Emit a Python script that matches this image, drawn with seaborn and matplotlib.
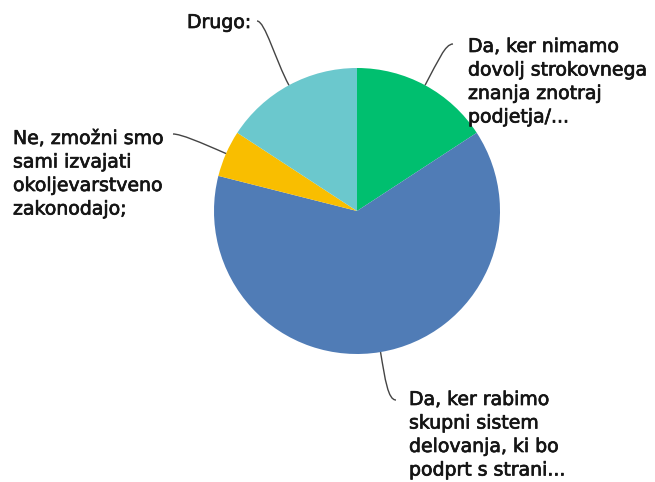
import numpy as np
import matplotlib.pyplot as plt
from matplotlib.path import Path
from matplotlib.patches import PathPatch
import matplotlib.patheffects as pe
import seaborn as sns

# answer options, in the order they run clockwise from 12 o'clock
categories = [
    "Da, ker nimamo\ndovolj strokovnega\nznanja znotraj\npodjetja/...",
    "Da, ker rabimo\nskupni sistem\ndelovanja, ki bo\npodprt s strani...",
    "Ne, zmožni smo\nsami izvajati\nokoljevarstveno\nzakonodajo;",
    "Drugo:",
]
counts = [3, 12, 1, 3]
colors = ["#00BF6F", "#507CB6", "#F9BE00", "#6BC8CD"]

# label placement in pixels (top-left of the text) and where its leader line starts
label_xy = [(468, 37), (409, 390), (13, 129), (187, 13)]
line_xy = [(453, 44), (396, 400), (173, 134), (257, 21)]

W, H = 655, 482
sns.set_theme(style="white")
plt.rcParams['font.family'] = ['DejaVu Sans']

fig = plt.figure(figsize=(W / 100, H / 100), dpi=100)
ax = fig.add_axes([0, 0, 1, 1])

cx, cy, r = 357, H - 211, 143
wedges, _ = ax.pie(counts, colors=colors, startangle=90, counterclock=False,
                   center=(cx, cy), radius=r, wedgeprops=dict(linewidth=0))
ax.set_xlim(0, W)
ax.set_ylim(0, H)
ax.set_aspect('equal')
ax.axis('off')

for w, lab, (tx, ty), (lx, ly) in zip(wedges, categories, label_xy, line_xy):
    mid = np.deg2rad((w.theta1 + w.theta2) / 2)
    u = np.array([np.cos(mid), np.sin(mid)])
    edge = np.array([cx, cy]) + r * u
    p0 = np.array([lx, H - ly])
    side = 1 if lx < cx else -1
    p1 = p0 + [8 * side, 0]
    p2 = edge + 28 * u
    path = Path([p0, p1, p2, edge], [Path.MOVETO, Path.CURVE4, Path.CURVE4, Path.CURVE4])
    ax.add_patch(PathPatch(path, fill=False, edgecolor='#444444', lw=1.0))
    # slight stroke to get the heavier look of the original labels
    ax.text(tx, H - ty, lab, ha='left', va='top', fontsize=13.6,
            color='#151515', linespacing=1.3,
            path_effects=[pe.withStroke(linewidth=0.5, foreground='#151515')])

plt.savefig("out.png", dpi=100)
plt.close()
